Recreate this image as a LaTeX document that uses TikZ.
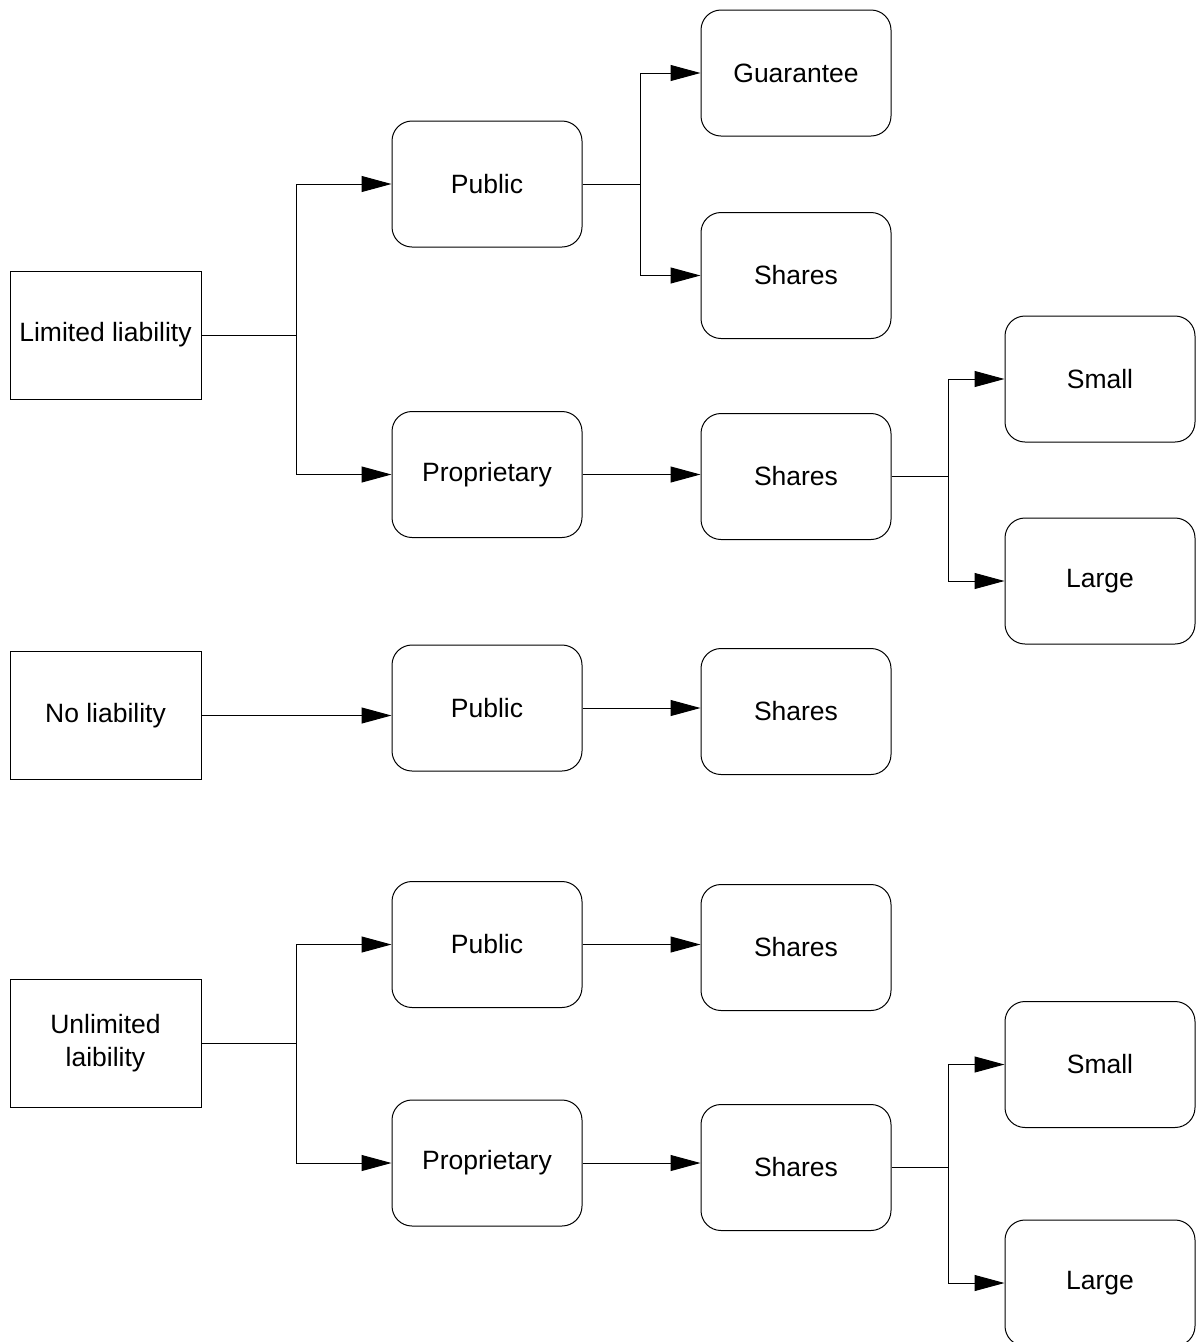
\documentclass[tikz,border=0pt]{standalone}
\usepackage{fontspec}
\setmainfont{Liberation Sans}
\usetikzlibrary{arrows.meta}
\begin{document}
\begin{tikzpicture}[x=1pt,y=-1pt,
  base/.style={draw=black,line width=1pt,inner sep=0pt,align=center,
    font=\fontsize{26.5}{33}\selectfont},
  sqbox/.style={base,minimum width=191pt,minimum height=128pt},
  rbox/.style={base,rounded corners=20pt,minimum width=190pt,minimum height=126pt},
  arr/.style={line width=1pt,-{Triangle[length=30pt,width=16pt]}},
  ln/.style={line width=1pt}]
\useasboundingbox (0,0) rectangle (1196,1342);
\begin{scope}
\clip (0,0) rectangle (1196,1342);
% left column
\node[sqbox] (LL) at (105.5,335) {Limited liability};
\node[sqbox] (NL) at (105.5,715.5) {No liability};
\node[sqbox] (UL) at (105.5,1043.5) {Unlimited\\laibility};
% second column
\node[rbox] (P1) at (487,184) {Public};
\node[rbox] (Pr1) at (487,474.5) {Proprietary};
\node[rbox] (P2) at (487,708) {Public};
\node[rbox] (P3) at (487,944.5) {Public};
\node[rbox] (Pr2) at (487,1163) {Proprietary};
% third column
\node[rbox] (G) at (796,73) {Guarantee};
\node[rbox] (S1) at (796,275.5) {Shares};
\node[rbox] (S2) at (796,476.5) {Shares};
\node[rbox] (S3) at (796,711.5) {Shares};
\node[rbox] (S4) at (796,947.5) {Shares};
\node[rbox] (S5) at (796,1167.5) {Shares};
% fourth column
\node[rbox] (Sm1) at (1100,379) {Small};
\node[rbox] (L1) at (1100,581) {Large};
\node[rbox] (Sm2) at (1100,1064.5) {Small};
\node[rbox] (L2) at (1100,1283) {Large};
% hubs
\coordinate (h1) at (296,335);
\coordinate (h2) at (640,184);
\coordinate (h3) at (948,476.5);
\coordinate (h4) at (296,1043.5);
\coordinate (h5) at (948,1167.5);
% connectors
\draw[ln] (LL.east) -- (h1);
\draw[arr] (h1) |- (P1.west);
\draw[arr] (h1) |- (Pr1.west);
\draw[ln] (P1.east) -- (h2);
\draw[arr] (h2) |- (G.west);
\draw[arr] (h2) |- (S1.west);
\draw[arr] (Pr1.east) -- (S2.west |- Pr1.east);
\draw[ln] (S2.east) -- (h3);
\draw[arr] (h3) |- (Sm1.west);
\draw[arr] (h3) |- (L1.west);
\draw[arr] (NL.east) -- (P2.west |- NL.east);
\draw[arr] (P2.east) -- (S3.west |- P2.east);
\draw[ln] (UL.east) -- (h4);
\draw[arr] (h4) |- (P3.west);
\draw[arr] (h4) |- (Pr2.west);
\draw[arr] (P3.east) -- (S4.west |- P3.east);
\draw[arr] (Pr2.east) -- (S5.west |- Pr2.east);
\draw[ln] (S5.east) -- (h5);
\draw[arr] (h5) |- (Sm2.west);
\draw[arr] (h5) |- (L2.west);
\end{scope}
\end{tikzpicture}
\end{document}
